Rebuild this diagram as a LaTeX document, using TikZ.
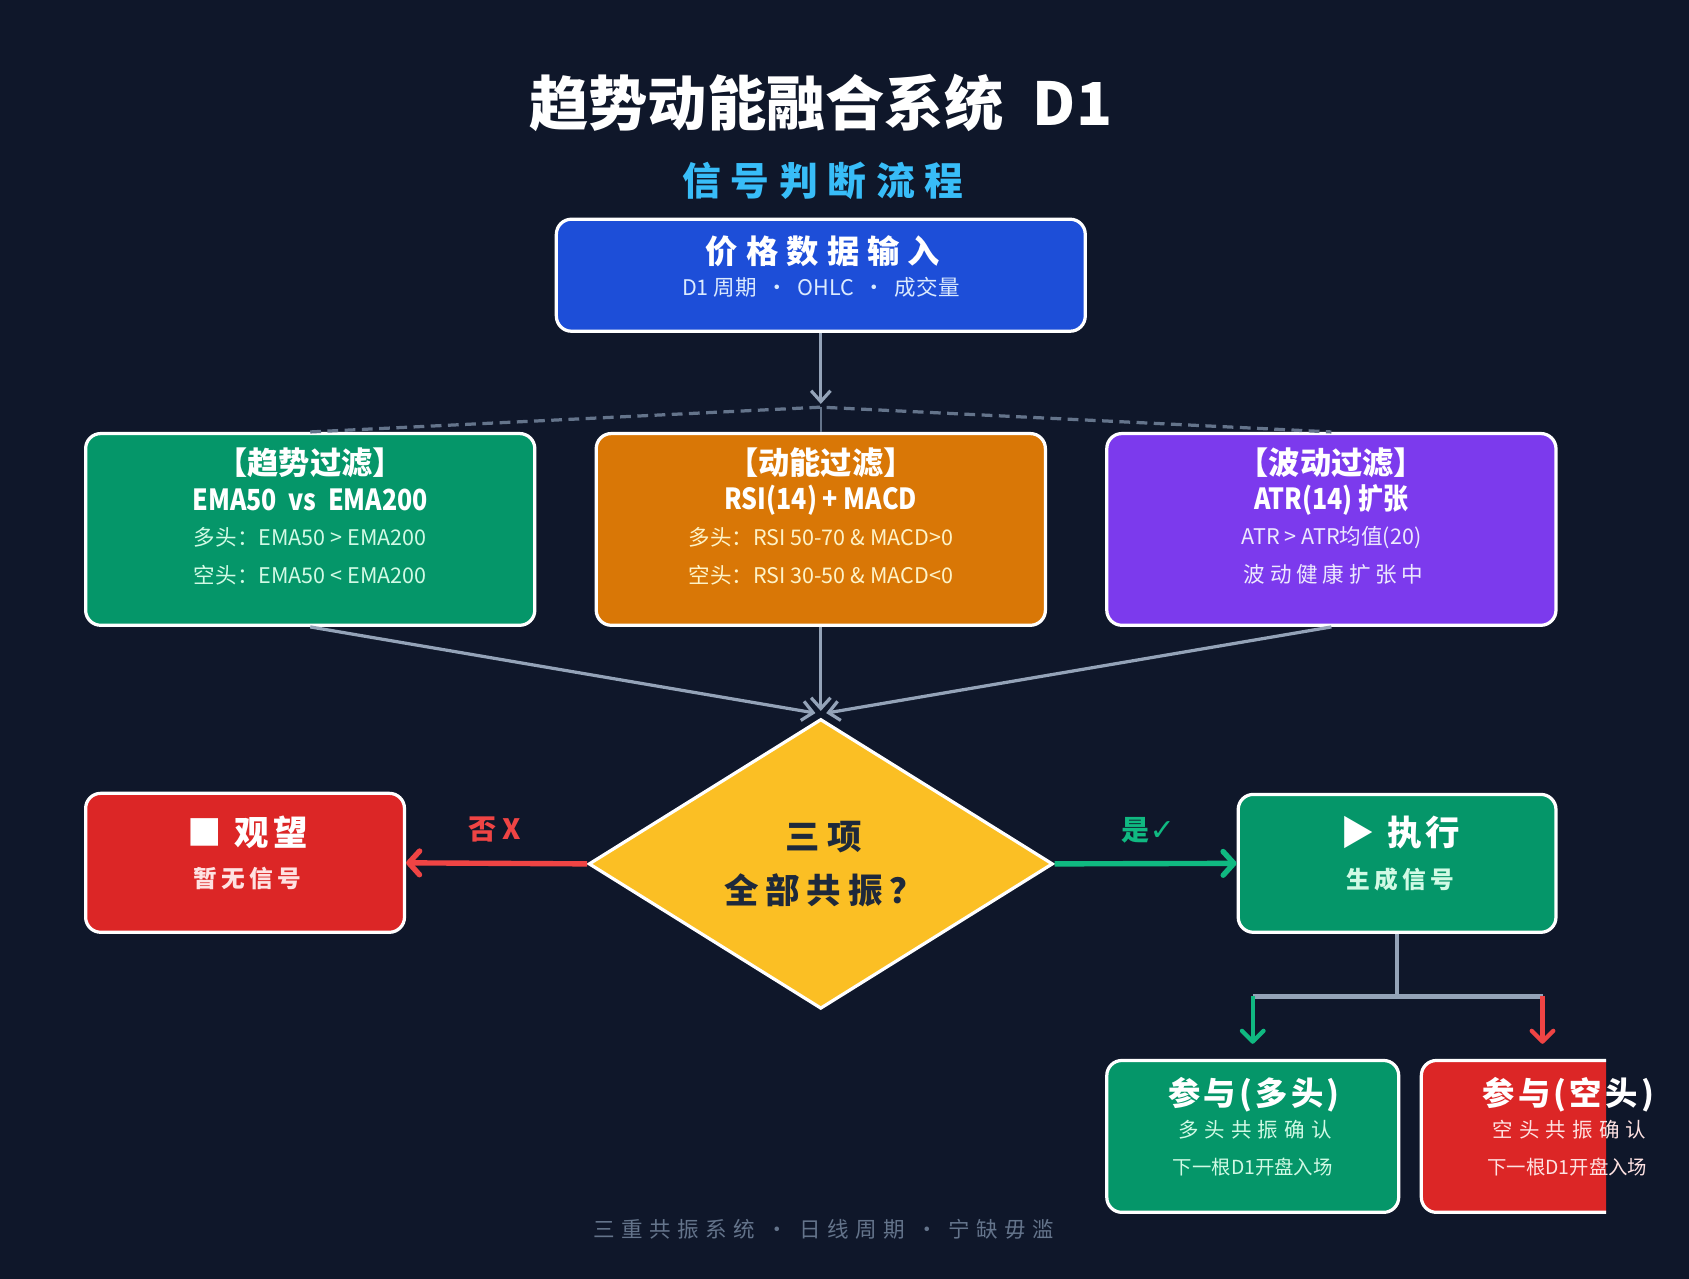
\documentclass[tikz,border=0pt]{standalone}
\usepackage{fontspec}
\setmainfont{Noto Sans CJK SC}
\newfontfamily\marksfont{DejaVu Sans}
\usetikzlibrary{arrows.meta,shapes.geometric}

\definecolor{bgnavy}{HTML}{0F172A}
\definecolor{inblue}{HTML}{1D4ED8}
\definecolor{trendgreen}{HTML}{059669}
\definecolor{momorange}{HTML}{D97706}
\definecolor{volpurple}{HTML}{7C3AED}
\definecolor{holdred}{HTML}{DC2626}
\definecolor{judgegold}{HTML}{FBBF24}
\definecolor{linegray}{HTML}{94A3B8}
\definecolor{dashgray}{HTML}{64748B}
\definecolor{nored}{HTML}{EF4444}
\definecolor{yesgreen}{HTML}{10B981}
\definecolor{subcyan}{HTML}{38BDF8}
\definecolor{darkink}{HTML}{1E293B}
\definecolor{mintnote}{HTML}{D1FAE5}
\definecolor{sandnote}{HTML}{FEF3C7}
\definecolor{lilacnote}{HTML}{EDE9FE}
\definecolor{skynote}{HTML}{DBEAFE}
\definecolor{rosenote}{HTML}{FEE2E2}

\tikzset{
  panel/.style={draw=white, line width=1.5pt, rounded corners=7pt, inner sep=0pt},
  judgebox/.style={diamond, draw=white, line width=1.5pt, fill=judgegold, inner sep=0pt,
    minimum width=215.5pt, minimum height=134.5pt},
  head/.style={text=white, font=\fontsize{14.5}{16}\selectfont\bfseries},
  spec/.style={text=white, font=\fontsize{13.5}{15}\selectfont\bfseries\addfontfeatures{FakeStretch=0.86}},
  note/.style={font=\fontsize{10}{12}\selectfont},
  flow/.style={linegray, line width=1.5pt, -{Straight Barb[length=5pt,width=9pt]}},
  noflow/.style={nored, line width=2.5pt, -{Straight Barb[length=5pt,width=11pt,round]}},
  yesflow/.style={yesgreen, line width=2.5pt, -{Straight Barb[length=5pt,width=11pt,round]}},
  branch/.style={linegray, line width=2pt},
}

\begin{document}
\begin{tikzpicture}[x=0.5pt,y=-0.5pt]
 \fill[bgnavy] (0,0) rectangle (1568,1187);

 % titles
 \node[text=white, font=\fontsize{27.5}{33}\selectfont\bfseries] (title) at (762,96) {趋势动能融合系统\enspace D1};
 \node[text=subcyan, font=\fontsize{18}{22}\selectfont\bfseries\addfontfeatures{LetterSpace=25}] (subtitle) at (764,168) {信号判断流程};

 % input
 \node[panel, fill=inblue, minimum width=245.5pt, minimum height=52pt] (input) at (762,255.5) {};
 \node[text=white, font=\fontsize{15}{18}\selectfont\bfseries\addfontfeatures{LetterSpace=25}] (inhead) at (764,233) {价格数据输入};
 \node[note, text=skynote] (innote) at (762,267) {D1 周期 ~·~ OHLC ~·~ 成交量};

 % three filters
 \node[panel, fill=trendgreen, minimum width=208.5pt, minimum height=89pt] (trend) at (288,491.5) {};
 \node[panel, fill=momorange, minimum width=208.5pt, minimum height=89pt] (mom) at (762,491.5) {};
 \node[panel, fill=volpurple, minimum width=208.5pt, minimum height=89pt] (vol) at (1236,491.5) {};

 \node[head] (trendhead) at (288,430) {【趋势过滤】};
 \node[spec] (trendspec) at (288,464) {EMA50\ \ vs\ \ EMA200};
 \node[note, text=mintnote] (trendlong) at (288,499) {多头：EMA50 > EMA200};
 \node[note, text=mintnote] (trendshort) at (288,534) {空头：EMA50 < EMA200};

 \node[head] (momhead) at (762,430) {【动能过滤】};
 \node[spec] (momspec) at (762,464) {RSI(14) + MACD};
 \node[note, text=sandnote] (momlong) at (762,499) {多头：RSI 50-70 \& MACD>0};
 \node[note, text=sandnote] (momshort) at (762,534) {空头：RSI 30-50 \& MACD<0};

 \node[head] (volhead) at (1236,430) {【波动过滤】};
 \node[spec] (volspec) at (1236,464) {ATR(14) 扩张};
 \node[note, text=lilacnote] (volrule) at (1236,499) {ATR > ATR均值(20)};
 \node[note, text=lilacnote, font=\fontsize{10}{12}\selectfont\addfontfeatures{LetterSpace=22}] (volstate) at (1238,533) {波动健康扩张中};

 \coordinate (fork) at (762,378);
 \draw[flow] (input.south) -- ([yshift=1.5pt]fork);
 \draw[dashgray, line width=1.5pt, dash pattern=on 5pt off 3pt] (trend.north) -- (fork) -- (vol.north);
 \draw[dashgray, line width=1pt] (fork) -- (mom.north);

 % decision
 \node[judgebox] (judge) at (762,802) {};
 \node[text=darkink, font=\fontsize{16}{19}\selectfont\bfseries\addfontfeatures{LetterSpace=22}] (judgetop) at (765,777) {三项};
 \node[text=darkink, font=\fontsize{16}{19}\selectfont\bfseries\addfontfeatures{LetterSpace=20}] (judgebot) at (765,827) {全部共振？};

 \draw[flow] (trend.south) -- ([xshift=-2.5pt,yshift=2pt]judge.north);
 \draw[flow] (mom.south) -- ([yshift=3pt]judge.north);
 \draw[flow] (vol.south) -- ([xshift=2.5pt,yshift=2pt]judge.north);

 % outcomes
 \node[panel, fill=holdred, minimum width=148pt, minimum height=64.5pt] (hold) at (227.5,801) {};
 \node[text=white, font=\fontsize{16}{19}\selectfont\bfseries\addfontfeatures{LetterSpace=12}] (holdhead) at (230,773) {■ 观望};
 \node[text=rosenote, font=\fontsize{11}{13}\selectfont\bfseries\addfontfeatures{LetterSpace=18}] (holdnote) at (230,816) {暂无信号};

 \node[panel, fill=trendgreen, minimum width=147.5pt, minimum height=64pt] (exec) at (1297,801.5) {};
 \node[text=white, font=\fontsize{16}{19}\selectfont\bfseries\addfontfeatures{LetterSpace=12}] (exechead) at (1300,773) {▶ 执行};
 \node[text=mintnote, font=\fontsize{11}{13}\selectfont\bfseries\addfontfeatures{LetterSpace=18}] (execnote) at (1300,816) {生成信号};

 \draw[noflow] (judge.west) -- (hold.east);
 \draw[yesflow] (judge.east) -- (exec.west);
 \node[text=nored, font=\fontsize{13}{15}\selectfont\bfseries] (nolabel) at (459,770) {否 X};
 \node[text=yesgreen, font=\fontsize{13}{15}\selectfont\bfseries] (yeslabel) at (1066,771) {是{\marksfont\fontsize{14}{15}\selectfont ✓}};

 % entries
 \node[panel, fill=trendgreen, minimum width=135.5pt, minimum height=70.5pt] (long) at (1163,1055) {};
 \begin{scope}
  \clip (1300,960) rectangle (1491,1150);
  \node[panel, fill=holdred, minimum width=135.5pt, minimum height=70.5pt] (short) at (1455,1055) {};
 \end{scope}

 \coordinate (split) at (1297,925);
 \coordinate (lbr) at (1163,925);
 \coordinate (rbr) at (1432,925);
 \draw[branch] (exec.south) -- (split);
 \draw[branch] (lbr) -- (rbr);
 \draw[yesgreen, line width=2pt, shorten >=7pt, -{Straight Barb[length=5pt,width=10pt,round]}] (lbr) -- (lbr |- long.north);
 \draw[nored, line width=2pt, shorten >=7pt, -{Straight Barb[length=5pt,width=10pt,round]}] (rbr) -- (rbr |- short.north);

 \node[text=white, font=\fontsize{15}{18}\selectfont\bfseries\addfontfeatures{LetterSpace=10}] (longhead) at (1164,1016) {参与(多头)};
 \node[text=mintnote, font=\fontsize{9.5}{11}\selectfont\addfontfeatures{LetterSpace=30}] (longnote) at (1165,1049) {多头共振确认};
 \node[text=mintnote, font=\fontsize{9}{11}\selectfont] (longgo) at (1163,1083) {下一根D1开盘入场};

 \node[text=white, font=\fontsize{15}{18}\selectfont\bfseries\addfontfeatures{LetterSpace=10}] (shorthead) at (1456,1016) {参与(空头)};
 \node[text=rosenote, font=\fontsize{9.5}{11}\selectfont\addfontfeatures{LetterSpace=30}] (shortnote) at (1457,1049) {空头共振确认};
 \node[text=rosenote, font=\fontsize{9}{11}\selectfont] (shortgo) at (1455,1083) {下一根D1开盘入场};

 % footer
 \node[text=dashgray, font=\fontsize{10}{12}\selectfont\addfontfeatures{LetterSpace=30}] (footer) at (765,1141) {三重共振系统 · 日线周期 · 宁缺毋滥};
\end{tikzpicture}
\end{document}
